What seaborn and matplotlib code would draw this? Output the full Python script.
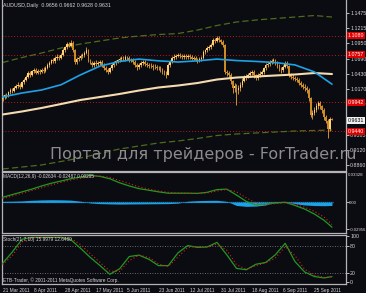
import numpy as np
import pandas as pd
import matplotlib
matplotlib.use("Agg")
import matplotlib.pyplot as plt
import seaborn as sns
from matplotlib.transforms import blended_transform_factory as btf

# ---------------- data ----------------
closes = [1.003, 1.006, 1.005, 1.011, 1.015, 1.013, 1.019, 1.022, 1.024, 1.021,
          1.028, 1.032, 1.038, 1.044, 1.041, 1.047, 1.049, 1.045, 1.048, 1.046,
          1.050, 1.048, 1.053, 1.058, 1.062, 1.066, 1.064, 1.070, 1.072, 1.070,
          1.075, 1.084, 1.088, 1.094, 1.091, 1.096, 1.084, 1.063, 1.068, 1.070,
          1.073, 1.075, 1.078, 1.084, 1.066, 1.062, 1.058, 1.062, 1.059, 1.061,
          1.063, 1.058, 1.053, 1.049, 1.046, 1.052, 1.058, 1.061, 1.064, 1.066,
          1.068, 1.070, 1.067, 1.071, 1.070, 1.066, 1.067, 1.063, 1.058, 1.054,
          1.058, 1.061, 1.063, 1.060, 1.058, 1.056, 1.057, 1.054, 1.055, 1.052,
          1.053, 1.049, 1.046, 1.043, 1.041, 1.058, 1.064, 1.070, 1.072, 1.074,
          1.075, 1.073, 1.072, 1.074, 1.071, 1.073, 1.072, 1.069, 1.070, 1.067,
          1.066, 1.068, 1.070, 1.080, 1.083, 1.087, 1.089, 1.092, 1.101, 1.099,
          1.104, 1.100, 1.097, 1.092, 1.046, 1.044, 1.041, 1.030, 1.018, 1.022,
          1.015, 1.019, 1.024, 1.031, 1.036, 1.039, 1.041, 1.044, 1.046, 1.040,
          1.036, 1.041, 1.043, 1.046, 1.052, 1.058, 1.060, 1.063, 1.064, 1.066,
          1.061, 1.056, 1.052, 1.049, 1.055, 1.061, 1.056, 1.041, 1.038, 1.036,
          1.034, 1.032, 1.027, 1.024, 1.021, 1.018, 1.015, 1.001, 0.972, 0.976,
          0.981, 0.988, 0.993, 0.987, 0.981, 0.969, 0.962, 0.948, 0.9656, 0.9631]
highs = [1.006, 1.009, 1.010, 1.014, 1.018, 1.019, 1.022, 1.026, 1.028, 1.027,
         1.031, 1.035, 1.041, 1.047, 1.048, 1.050, 1.053, 1.052, 1.051, 1.051,
         1.053, 1.054, 1.056, 1.061, 1.065, 1.069, 1.070, 1.073, 1.076, 1.075,
         1.078, 1.087, 1.091, 1.097, 1.098, 1.100, 1.099, 1.086, 1.071, 1.074,
         1.076, 1.078, 1.082, 1.089, 1.086, 1.069, 1.065, 1.065, 1.066, 1.064,
         1.067, 1.066, 1.061, 1.056, 1.052, 1.055, 1.061, 1.064, 1.067, 1.069,
         1.072, 1.074, 1.073, 1.075, 1.074, 1.073, 1.070, 1.070, 1.066, 1.061,
         1.061, 1.064, 1.067, 1.066, 1.063, 1.061, 1.061, 1.060, 1.059, 1.058,
         1.057, 1.056, 1.052, 1.049, 1.047, 1.061, 1.067, 1.073, 1.076, 1.077,
         1.079, 1.078, 1.076, 1.077, 1.077, 1.076, 1.076, 1.075, 1.073, 1.073,
         1.070, 1.071, 1.073, 1.083, 1.086, 1.090, 1.093, 1.095, 1.104, 1.105,
         1.108, 1.107, 1.103, 1.100, 1.094, 1.050, 1.048, 1.044, 1.033, 1.027,
         1.026, 1.024, 1.028, 1.035, 1.040, 1.043, 1.045, 1.048, 1.050, 1.049,
         1.043, 1.044, 1.047, 1.050, 1.055, 1.061, 1.064, 1.067, 1.068, 1.070,
         1.069, 1.064, 1.059, 1.055, 1.058, 1.064, 1.064, 1.058, 1.045, 1.042,
         1.039, 1.037, 1.035, 1.030, 1.027, 1.025, 1.022, 1.018, 1.003, 0.981,
         0.986, 0.992, 0.997, 0.996, 0.990, 0.984, 0.972, 0.965, 0.968, 0.9662]
lows = [0.997, 1.000, 1.002, 1.003, 1.008, 1.010, 1.011, 1.016, 1.019, 1.017,
        1.019, 1.025, 1.030, 1.036, 1.038, 1.039, 1.044, 1.042, 1.042, 1.043,
        1.044, 1.045, 1.046, 1.051, 1.055, 1.059, 1.061, 1.062, 1.067, 1.067,
        1.068, 1.073, 1.081, 1.086, 1.088, 1.089, 1.081, 1.059, 1.060, 1.065,
        1.067, 1.070, 1.072, 1.076, 1.063, 1.059, 1.055, 1.055, 1.056, 1.056,
        1.058, 1.055, 1.050, 1.046, 1.042, 1.044, 1.050, 1.055, 1.058, 1.061,
        1.063, 1.065, 1.064, 1.064, 1.067, 1.063, 1.063, 1.060, 1.055, 1.050,
        1.051, 1.055, 1.058, 1.057, 1.054, 1.052, 1.053, 1.050, 1.051, 1.049,
        1.049, 1.046, 1.043, 1.040, 1.036, 1.040, 1.055, 1.061, 1.067, 1.069,
        1.071, 1.070, 1.069, 1.069, 1.068, 1.068, 1.069, 1.066, 1.066, 1.064,
        1.062, 1.063, 1.065, 1.068, 1.077, 1.080, 1.084, 1.086, 1.090, 1.096,
        1.097, 1.097, 1.094, 1.088, 1.043, 1.039, 1.037, 1.025, 1.010, 1.012,
        0.989, 1.008, 1.014, 1.020, 1.028, 1.032, 1.035, 1.037, 1.040, 1.036,
        1.032, 1.033, 1.038, 1.040, 1.043, 1.049, 1.055, 1.057, 1.060, 1.061,
        1.058, 1.052, 1.048, 1.045, 1.046, 1.052, 1.053, 1.037, 1.034, 1.032,
        1.030, 1.028, 1.023, 1.020, 1.017, 1.013, 1.010, 0.997, 0.968, 0.966,
        0.972, 0.977, 0.983, 0.982, 0.975, 0.964, 0.958, 0.933, 0.945, 0.9628]
first_open = 1.000

ma_idx = [0, 10, 20, 30, 40, 50, 60, 70, 80, 90, 100, 110, 120, 130, 140, 150, 160, 169]
ma_fast = [1.003, 1.0099, 1.015, 1.024, 1.041, 1.056, 1.064, 1.068, 1.065, 1.063,
           1.065, 1.068, 1.0655, 1.064, 1.062, 1.058, 1.046, 1.025]
ma_slow = [0.9730, 0.9782, 0.9842, 0.9910, 0.9979, 1.0030, 1.0082, 1.0141, 1.0193, 1.0227,
           1.0270, 1.0330, 1.0364, 1.0381, 1.0399, 1.0416, 1.0441, 1.0424]
env_up = [1.0621, 1.0707, 1.0784, 1.0870, 1.0939, 1.0990, 1.1042, 1.1076, 1.1101, 1.1118,
          1.1178, 1.1256, 1.1316, 1.1350, 1.1376, 1.1401, 1.1427, 1.1401]
env_dn = [0.8796, 0.8830, 0.8865, 0.8925, 0.8985, 0.9062, 0.9139, 0.9190, 0.9242, 0.9276,
          0.9319, 0.9370, 0.9396, 0.9413, 0.9430, 0.9447, 0.9456, 0.9464]
level_lines = [1.1080, 1.0757, 0.9942, 0.9440]
last_price = 0.9631

price_ticks = [0.8860, 0.9120, 0.9385, 0.9910, 1.0170, 1.0430, 1.0690, 1.0950, 1.1215, 1.1475]

ind_idx = [0, 5, 10, 15, 20, 25, 30, 35, 40, 45, 50, 55, 60, 65, 70, 75, 80, 85,
           90, 95, 100, 105, 110, 115, 120, 125, 130, 135, 140, 145, 150, 155, 160, 165, 169]
macd_main = [0.0055, 0.0085, 0.0115, 0.0145, 0.018, 0.021, 0.0235, 0.026, 0.028, 0.0297,
             0.0285, 0.026, 0.0215, 0.018, 0.015, 0.0133, 0.0115, 0.010, 0.010, 0.010,
             0.0098, 0.011, 0.014, 0.0145, 0.008, 0.001, -0.003, -0.002, -0.0008, 0.0,
             -0.0035, -0.0075, -0.013, -0.020, -0.0275]
macd_signal = [0.004, 0.007, 0.010, 0.013, 0.016, 0.019, 0.022, 0.0245, 0.0265, 0.0283,
               0.029, 0.0275, 0.024, 0.0205, 0.017, 0.0145, 0.0125, 0.011, 0.0103, 0.0100,
               0.0099, 0.0103, 0.0125, 0.0142, 0.0115, 0.005, -0.001, -0.0025, -0.0015, -0.0004,
               -0.0022, -0.0055, -0.010, -0.0165, -0.0245]
macd_hist = [0.0010, 0.0012, 0.0015, 0.0022, 0.0026, 0.0028, 0.0027, 0.0024, 0.0012, -0.0008,
             -0.0015, -0.0018, -0.0020, -0.0019, -0.0018, -0.0017, -0.0016, -0.0015, -0.0010, 0.0012,
             0.0018, 0.0021, 0.0022, 0.0010, -0.0035, -0.0045, -0.0042, -0.0030, 0.0008, 0.0008,
             -0.0015, -0.0030, -0.0036, -0.0038, -0.0035]
stoch_main = [41, 66, 94, 98, 98, 98, 98, 93, 74, 54, 36, 17, 29, 56, 59, 50, 36, 36,
              64, 80, 76, 77, 87, 60, 30, 27, 39, 43, 60, 85, 45, 22, 12, 9, 12]
stoch_signal = [38, 58, 88, 97, 98, 98, 98, 96, 82, 62, 43, 24, 23, 47, 59, 54, 40, 34,
                55, 76, 78, 76, 84, 70, 38, 28, 36, 42, 53, 78, 58, 28, 15, 10, 12]

date_idx = [0, 16, 32, 48, 64, 80, 96, 112, 128, 144, 160]
date_labels = ["21 Mar 2011", "8 Apr 2011", "28 Apr 2011", "17 May 2011", "5 Jun 2011",
               "23 Jun 2011", "12 Jul 2011", "31 Jul 2011", "18 Aug 2011", "6 Sep 2011",
               "25 Sep 2011"]

header = "AUDUSD,Daily  0.9656 0.9662 0.9628 0.9631"
macd_label = "MACD(12,26,9) -0.02634 -0.02487 0.00205"
stoch_label = "Stoch(21,7,10) 15.9979 12.6460"
copyright_txt = "ETB-Trader, \u00a9 2001-2011 MetaQuotes Software Corp."
watermark = "Портал для трейдеров - ForTrader.ru"

# ---------------- style ----------------
BG = "#0b0b12"
FG = "#d8d8d8"
GRID = "#b4b4b4"
sns.set_theme(style="dark", rc={"axes.facecolor": BG, "figure.facecolor": BG,
                                "axes.edgecolor": GRID, "text.color": FG,
                                "xtick.color": FG, "ytick.color": FG})
plt.rcParams['font.family'] = ['Liberation Sans', 'DejaVu Sans']
FS = 3.8   # axis labels
FS2 = 3.4  # small captions

W, H = 366, 293
fig = plt.figure(figsize=(W / 100, H / 100), dpi=100, facecolor=BG)


def rect(x0, y0, x1, y1):
    return [x0 / W, 1 - y1 / H, (x1 - x0) / W, (y1 - y0) / H]


ax1 = fig.add_axes(rect(2, 0, 346, 170.5))
ax2 = fig.add_axes(rect(2, 172, 346, 233))
ax3 = fig.add_axes(rect(2, 234.5, 346, 284))
for ax in (ax1, ax2, ax3):
    ax.set_facecolor(BG)
    ax.set_xlim(-0.3, 176.2)
    ax.grid(False)
    for s in ax.spines.values():
        s.set_color(GRID)
        s.set_linewidth(0.9)
    ax.yaxis.tick_right()
    ax.tick_params(axis='y', colors=FG, labelsize=FS, length=2, width=0.6, pad=1.0)
ax1.spines['top'].set_visible(False)
ax1.set_xticks([])
ax2.set_xticks([])

# ---------------- price panel ----------------
c = np.array(closes)
o = np.array([first_open] + closes[:-1])
h = np.array(highs)
l = np.array(lows)
idx = np.arange(len(c))
up = c >= o
UPC, DNC, WICK = "#ffd27a", "#d08a22", "#e8a63a"
ax1.vlines(idx, l, h, color=WICK, lw=0.6, zorder=3)
ax1.bar(idx[up], np.maximum((c - o)[up], 0.0006), bottom=o[up], width=0.8,
        color=UPC, lw=0, zorder=4)
ax1.bar(idx[~up], np.maximum((o - c)[~up], 0.0006), bottom=c[~up], width=0.8,
        color=DNC, lw=0, zorder=4)

df_ma = pd.DataFrame({"i": ma_idx, "fast": ma_fast, "slow": ma_slow,
                      "up": env_up, "dn": env_dn})
sns.lineplot(data=df_ma, x="i", y="up", ax=ax1, color="#4f6b1c", lw=0.9,
             linestyle=(0, (5, 2.5)), zorder=2)
sns.lineplot(data=df_ma, x="i", y="dn", ax=ax1, color="#4f6b1c", lw=0.9,
             linestyle=(0, (5, 2.5)), zorder=2)
sns.lineplot(data=df_ma, x="i", y="slow", ax=ax1, color="#f5dcb0", lw=1.5, zorder=5)
sns.lineplot(data=df_ma, x="i", y="fast", ax=ax1, color="#1ea2e6", lw=1.2, zorder=5)

for v in level_lines:
    ax1.axhline(v, color="#c01818", lw=0.7, ls=(0, (1, 2)), zorder=1)

ax1.set_ylim(0.877, 1.1693)
ax1.set_yticks(price_ticks)
ax1.set_yticklabels([f"{v:.4f}" for v in price_ticks])
ax1.set_xlabel("")
ax1.set_ylabel("")
tr1 = btf(ax1.transAxes, ax1.transData)
for v in level_lines:
    ax1.text(1.005, v, f"{v:.4f}", transform=tr1, ha='left', va='center', fontsize=FS,
             color='white', clip_on=False, zorder=10,
             bbox=dict(boxstyle='square,pad=0.2', fc='#e00000', ec='none'))
ax1.text(1.005, last_price, f"{last_price:.4f}", transform=tr1, ha='left', va='center',
         fontsize=FS, color='black', clip_on=False, zorder=10,
         bbox=dict(boxstyle='square,pad=0.2', fc='#f0f0f0', ec='none'))

# ---------------- MACD panel ----------------
df_ind = pd.DataFrame({"i": ind_idx, "main": macd_main, "sig": macd_signal,
                       "hist": macd_hist, "k": stoch_main, "d": stoch_signal})
ax2.fill_between(df_ind["i"], 0, df_ind["hist"], color="#1ea2e6", lw=0, zorder=2)
ax2.axhline(0, xmax=170 / 176.5, color="#1ea2e6", lw=0.9, ls=(0, (1, 0.6)), zorder=2)
sns.lineplot(data=df_ind, x="i", y="main", ax=ax2, color="#1f9a1f", lw=0.9, zorder=3)
sns.lineplot(data=df_ind, x="i", y="sig", ax=ax2, color="#e02020", lw=0.8,
             linestyle=(0, (1, 2)), zorder=4)
ax2.set_ylim(-0.0339, 0.0334)
ax2.set_yticks([-0.02956, 0.0])
ax2.set_yticklabels(["-0.02956", "0.00"])
ax2.tick_params(axis='y', pad=0.4)
for t in ax2.get_yticklabels():
    t.set_fontsize(3.1)
ax2.set_xlabel("")
ax2.set_ylabel("")
ax2.text(1.006, 0.99, "0.03328", transform=ax2.transAxes, ha='left', va='top',
         fontsize=3.2, color=FG, clip_on=False)

# ---------------- Stochastic panel ----------------
for v in (20, 80):
    ax3.axhline(v, color="#8a8a8a", lw=0.6, ls=(0, (1, 2)), zorder=1)
sns.lineplot(data=df_ind, x="i", y="k", ax=ax3, color="#1f9a1f", lw=0.9, zorder=3)
sns.lineplot(data=df_ind, x="i", y="d", ax=ax3, color="#e02020", lw=0.8,
             linestyle=(0, (1, 2)), zorder=4)
ax3.set_ylim(-4.3, 104.3)
ax3.set_yticks([0, 20, 80, 100])
ax3.set_yticklabels(["0", "20", "80", "100"])
ax3.set_xticks(date_idx)
ax3.set_xticklabels(date_labels)
ax3.tick_params(axis='x', colors=FG, labelsize=FS2, length=2, width=0.6, pad=1.2)
for t in ax3.get_xticklabels():
    t.set_ha('left')
ax3.set_xlabel("")
ax3.set_ylabel("")

# ---------------- texts ----------------
fig.text(3 / W, 1 - 5 / H, header, fontsize=FS, color=FG, va='center', ha='left')
fig.text(3 / W, 1 - 176.5 / H, macd_label, fontsize=FS2, color=FG, va='center', ha='left')
fig.text(3 / W, 1 - 239 / H, stoch_label, fontsize=FS2, color=FG, va='center', ha='left')
fig.text(3 / W, 1 - 280.5 / H, copyright_txt, fontsize=FS2, color=FG, va='center', ha='left')
fig.text(203 / W, 1 - 155 / H, watermark, fontsize=11.5, color="#8c8c8c",
         va='center', ha='center', zorder=20, family='DejaVu Sans')

fig.savefig("out.png", dpi=100, facecolor=BG)
